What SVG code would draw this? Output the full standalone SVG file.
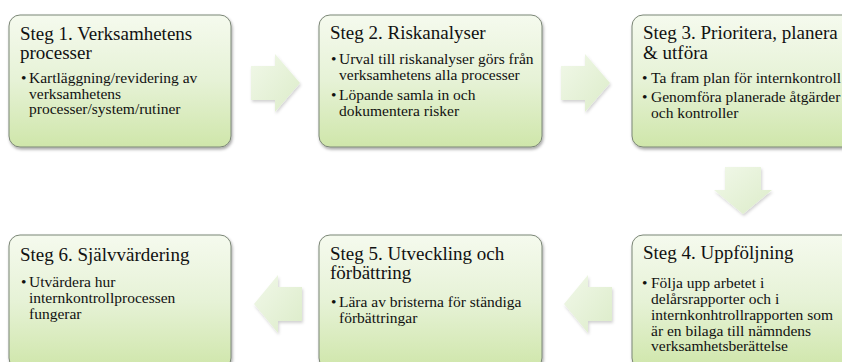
<svg xmlns="http://www.w3.org/2000/svg" width="842" height="362" viewBox="0 0 842 362">
<defs>
<linearGradient id="boxFill" x1="0" y1="0" x2="0" y2="1">
<stop offset="0" stop-color="#f5faee"/>
<stop offset="0.5" stop-color="#e6f2d6"/>
<stop offset="1" stop-color="#cfe6aa"/>
</linearGradient>
<linearGradient id="arrFill" x1="0" y1="0" x2="1" y2="1">
<stop offset="0" stop-color="#f1f8e9"/>
<stop offset="1" stop-color="#dcecc9"/>
</linearGradient>
<filter id="shadow" x="-10%" y="-10%" width="125%" height="130%">
<feDropShadow dx="1" dy="2" stdDeviation="1.6" flood-color="#000" flood-opacity="0.35"/>
</filter>
<filter id="ashadow" x="-20%" y="-20%" width="150%" height="150%">
<feDropShadow dx="1" dy="2" stdDeviation="1.5" flood-color="#000" flood-opacity="0.18"/>
</filter>
</defs>
<style>
.box{fill:url(#boxFill);stroke:#7b8676;stroke-width:1;filter:url(#shadow)}
.arr{fill:url(#arrFill);stroke:none;filter:url(#ashadow)}
.t{font-family:"Liberation Serif","Times New Roman",serif;font-size:19px;fill:#111}
.b{font-family:"Liberation Serif","Times New Roman",serif;font-size:15.5px;fill:#111}
</style>
<rect width="842" height="362" fill="#ffffff"/>
<g id="connectors">
<path class="arr" d="M251,66 H275 V54 L300,83 L275,112 V100 H251 Z"/>
<path class="arr" d="M561,66 H585 V54 L610,83 L585,112 V100 H561 Z"/>
<path class="arr" d="M725,167 H761 V190 H772 L743,214 L714,190 H725 Z"/>
<path class="arr" d="M612,287 H588 V275 L564,304 L588,333 V321 H612 Z"/>
<path class="arr" d="M302,287 H278 V275 L254,304 L278,333 V321 H302 Z"/>
</g>
<g id="steg1">
<rect class="box" x="9" y="15" width="222" height="132" rx="11"/>
<text class="t" x="20" y="40">Steg 1. Verksamhetens</text>
<text class="t" x="20" y="59">processer</text>
<text class="b" x="21" y="83">•</text>
<text class="b" x="29" y="83">Kartläggning/revidering av</text>
<text class="b" x="29" y="98.5">verksamhetens</text>
<text class="b" x="29" y="114">processer/system/rutiner</text>
</g>
<g id="steg2">
<rect class="box" x="319" y="15" width="223" height="132" rx="11"/>
<text class="t" x="330" y="39">Steg 2. Riskanalyser</text>
<text class="b" x="331" y="64">•</text>
<text class="b" x="339" y="64">Urval till riskanalyser görs från</text>
<text class="b" x="339" y="80">verksamhetens alla processer</text>
<text class="b" x="331" y="100">•</text>
<text class="b" x="339" y="100">Löpande samla in och</text>
<text class="b" x="339" y="116">dokumentera risker</text>
</g>
<g id="steg3">
<rect class="box" x="632" y="15" width="222" height="132" rx="11"/>
<text class="t" x="643" y="39">Steg 3. Prioritera, planera</text>
<text class="t" x="643" y="58.5">&amp; utföra</text>
<text class="b" x="642" y="83">•</text>
<text class="b" x="651" y="83">Ta fram plan för internkontroll</text>
<text class="b" x="642" y="102">•</text>
<text class="b" x="651" y="102">Genomföra planerade åtgärder</text>
<text class="b" x="651" y="118">och kontroller</text>
</g>
<g id="steg4">
<rect class="box" x="632" y="235" width="222" height="134" rx="11"/>
<text class="t" x="643" y="259">Steg 4. Uppföljning</text>
<text class="b" x="642" y="287.5">•</text>
<text class="b" x="651" y="287.5">Följa upp arbetet i</text>
<text class="b" x="651" y="303.5">delårsrapporter och i</text>
<text class="b" x="651" y="319.5">internkonhtrollrapporten som</text>
<text class="b" x="651" y="335.5">är en bilaga till nämndens</text>
<text class="b" x="651" y="351">verksamhetsberättelse</text>
</g>
<g id="steg5">
<rect class="box" x="319" y="235" width="223" height="134" rx="11"/>
<text class="t" x="330" y="260">Steg 5. Utveckling och</text>
<text class="t" x="330" y="279">förbättring</text>
<text class="b" x="331" y="307">•</text>
<text class="b" x="339" y="307">Lära av bristerna för ständiga</text>
<text class="b" x="339" y="323">förbättringar</text>
</g>
<g id="steg6">
<rect class="box" x="9" y="235" width="222" height="134" rx="11"/>
<text class="t" x="20" y="260.5">Steg 6. Självvärdering</text>
<text class="b" x="21" y="287">•</text>
<text class="b" x="29" y="287">Utvärdera hur</text>
<text class="b" x="29" y="303">internkontrollprocessen</text>
<text class="b" x="29" y="319">fungerar</text>
</g>
</svg>
